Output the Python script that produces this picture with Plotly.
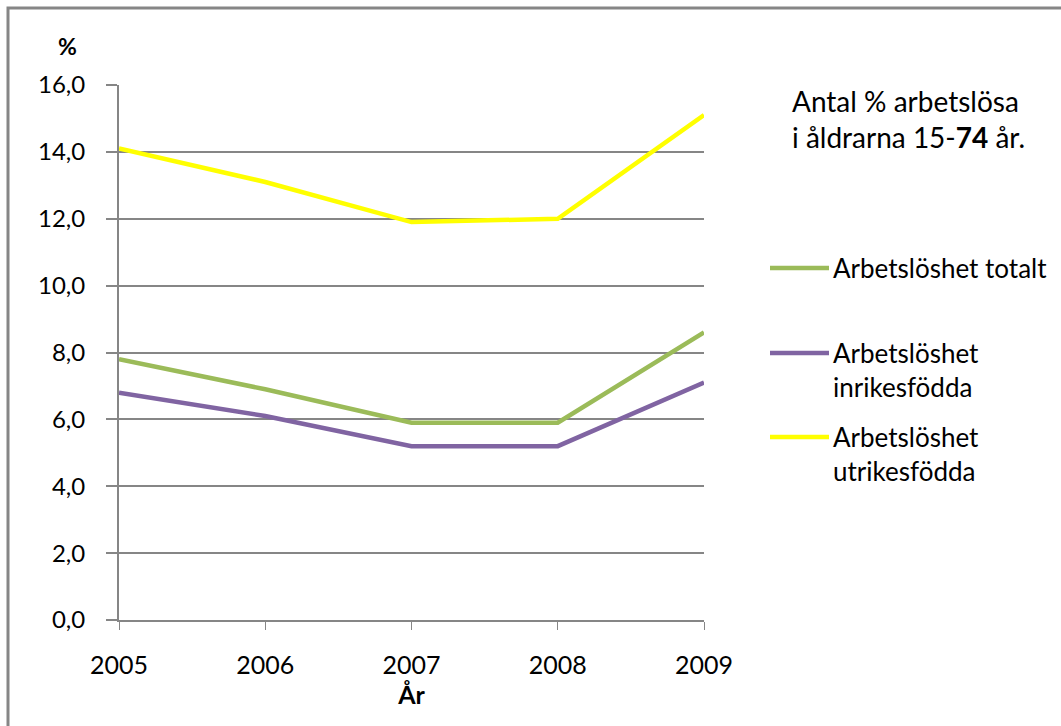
import plotly.graph_objects as go

years = [2005, 2006, 2007, 2008, 2009]
totalt = [7.8, 6.9, 5.9, 5.9, 8.6]
inrikes = [6.8, 6.1, 5.2, 5.2, 7.1]
utrikes = [14.1, 13.1, 11.9, 12.0, 15.1]

series_names = ["Arbetslöshet totalt", "Arbetslöshet<br>inrikesfödda", "Arbetslöshet<br>utrikesfödda"]
series_values = [totalt, inrikes, utrikes]
series_colors = ["#9BBB59", "#8064A2", "#FFFF00"]

y_ticks = [0, 2, 4, 6, 8, 10, 12, 14, 16]
y_ticktext = ["0,0", "2,0", "4,0", "6,0", "8,0", "10,0", "12,0", "14,0", "16,0"]

W, H = 1061, 726
L, R, T, B = 119, 704, 85, 620
FONT = "Lato"
GRAY = "#868686"

def px(x):
    return (x - L) / (R - L)

def py(y):
    return (B - y) / (B - T)

fig = go.Figure()
for name, vals, col in zip(series_names, series_values, series_colors):
    fig.add_trace(go.Scatter(x=years, y=vals, mode="lines", name=name,
                             line=dict(color=col, width=4.5), showlegend=False,
                             cliponaxis=False))

shapes = [dict(type="rect", xref="paper", yref="paper",
               x0=px(8), x1=px(1075), y0=py(740), y1=py(8),
               line=dict(color=GRAY, width=3), layer="below")]
annotations = []
legend_y = [268, 353, 437]
for name, col, ly in zip(series_names, series_colors, legend_y):
    shapes.append(dict(type="line", xref="paper", yref="paper",
                       x0=px(770), x1=px(829), y0=py(ly), y1=py(ly),
                       line=dict(color=col, width=4.5)))
    annotations.append(dict(xref="paper", yref="paper", x=px(831), y=py(ly - 18),
                            text=name, showarrow=False, xanchor="left", yanchor="top",
                            align="left", font=dict(family=FONT, size=26, color="#000000")))

annotations.append(dict(xref="paper", yref="paper", x=px(790), y=py(82),
                        text="Antal % arbetslösa<br>i åldrarna 15-<b>74</b> år.",
                        showarrow=False, xanchor="left", yanchor="top", align="left",
                        font=dict(family=FONT, size=28, color="#000000")))
annotations.append(dict(xref="paper", yref="paper", x=px(67), y=py(46),
                        text="<b>%</b>", showarrow=False, xanchor="center", yanchor="middle",
                        font=dict(family=FONT, size=23, color="#000000")))

fig.update_layout(
    width=W, height=H,
    margin=dict(l=L, r=W - R, t=T, b=H - B),
    plot_bgcolor="white", paper_bgcolor="white",
    font=dict(family=FONT, size=25, color="#000000"),
    shapes=shapes, annotations=annotations,
    xaxis=dict(range=[2005, 2009], tickvals=years, ticktext=[str(y) for y in years],
               showline=True, linecolor=GRAY, linewidth=2, ticks="outside",
               ticklen=8, tickwidth=1, tickcolor=GRAY, showgrid=False, zeroline=False,
               ticklabelstandoff=14,
               title=dict(text="<b>År</b>", font=dict(family=FONT, size=25), standoff=4),
               tickfont=dict(family=FONT, size=25)),
    yaxis=dict(range=[0, 16], tickvals=y_ticks, ticktext=y_ticktext,
               showline=True, linecolor=GRAY, linewidth=2, ticks="outside",
               ticklen=11, tickwidth=2, tickcolor=GRAY, showgrid=True,
               gridcolor=GRAY, gridwidth=2, zeroline=False,
               ticklabelstandoff=16,
               tickfont=dict(family=FONT, size=24)),
)

fig.write_html("out.html")
